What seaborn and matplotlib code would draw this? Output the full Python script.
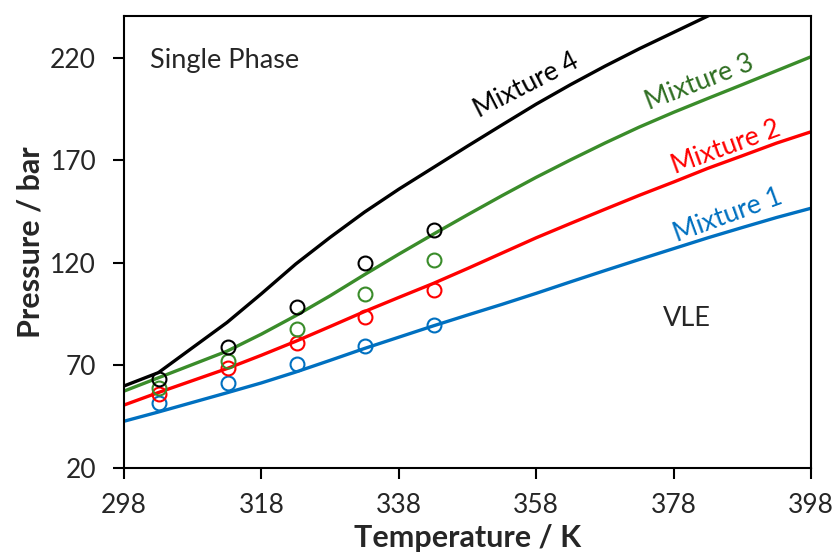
import pandas as pd
import matplotlib.pyplot as plt
import seaborn as sns

# Model curves (temperature in K, pressure in bar)
temp_model = [298, 303, 313, 318, 323, 328, 333, 338, 343, 348, 353, 358, 363, 368,
              373, 378, 383, 388, 393, 398]
mix1_model = [42.8, 47.3, 56.7, 61.5, 66.8, 72.5, 78.3, 83.8, 89.3, 94.6, 99.8, 105.2,
              110.8, 116.3, 121.7, 127.0, 132.3, 137.3, 142.2, 146.7]
mix2_model = [50.7, 56.8, 68.5, 75.0, 81.8, 89.0, 96.3, 103.2, 110.0, 117.3, 124.8, 132.3,
              139.3, 146.2, 153.0, 159.5, 166.2, 172.3, 178.5, 184.0]
mix3_model = [57.5, 64.0, 77.0, 85.3, 94.3, 104.0, 114.3, 124.3, 134.0, 143.5, 152.8, 161.8,
              170.3, 178.5, 186.3, 193.5, 200.3, 207.0, 213.8, 220.6]
mix4_model = [60.0, 66.5, 91.0, 105.0, 119.5, 132.5, 144.8, 156.0, 166.5, 177.0, 187.3,
              197.5, 207.0, 216.0, 224.5, 232.5, 240.5, 248.3, 256.0, 263.5]

# Experimental points
temp_exp = [303.15, 313.15, 323.15, 333.15, 343.15]
mix1_exp = [51.5, 61.6, 70.6, 79.3, 89.8]
mix2_exp = [56.0, 68.6, 81.1, 93.8, 106.8]
mix3_exp = [59.0, 72.2, 87.8, 104.8, 121.5]
mix4_exp = [63.4, 79.2, 98.7, 120.0, 136.1]

mixtures = ['Mixture 1', 'Mixture 2', 'Mixture 3', 'Mixture 4']
colors = {'Mixture 1': '#0070C0', 'Mixture 2': '#FF0000',
          'Mixture 3': '#3A8C2A', 'Mixture 4': '#000000'}
text_colors = {'Mixture 1': '#0070C0', 'Mixture 2': '#FF0000',
               'Mixture 3': '#2F6E22', 'Mixture 4': '#000000'}

model = pd.concat([
    pd.DataFrame({'T': temp_model, 'P': vals, 'mixture': name})
    for name, vals in zip(mixtures, [mix1_model, mix2_model, mix3_model, mix4_model])
])
exp = pd.concat([
    pd.DataFrame({'T': temp_exp, 'P': vals, 'mixture': name})
    for name, vals in zip(mixtures, [mix1_exp, mix2_exp, mix3_exp, mix4_exp])
])

sns.set_theme(style="ticks")
plt.rcParams['font.family'] = ['Lato', 'DejaVu Sans']

fig = plt.figure(figsize=(8.34, 5.55), dpi=100)
ax = fig.add_axes([0.1487, 0.1568, 0.9724 - 0.1487, 0.9712 - 0.1568])

sns.lineplot(data=model, x='T', y='P', hue='mixture', palette=colors,
             sort=False, estimator=None, linewidth=2.4, legend=False, ax=ax)

for name in mixtures:
    sub = exp[exp['mixture'] == name]
    ax.plot(sub['T'], sub['P'], linestyle='none', marker='o', markersize=10,
            markerfacecolor='none', markeredgecolor=colors[name],
            markeredgewidth=1.5, zorder=3)

ax.set_xlim(298, 398)
ax.set_ylim(20, 240.5)
ax.set_xticks([298, 318, 338, 358, 378, 398])
ax.set_yticks([20, 70, 120, 170, 220])
ax.tick_params(axis='both', labelsize=19, length=8, width=1.5,
               direction='out', color='black')
ax.tick_params(axis='x', pad=10)
ax.tick_params(axis='y', pad=12)
for side in ['top', 'right', 'left', 'bottom']:
    ax.spines[side].set_visible(True)
    ax.spines[side].set_color('black')
    ax.spines[side].set_linewidth(1.5)

ax.set_xlabel('Temperature / K', fontsize=22, fontweight='bold', labelpad=4)
ax.set_ylabel('Pressure / bar', fontsize=22, fontweight='bold', labelpad=4)

# Annotations
ax.text(301.8, 219, 'Single Phase', fontsize=19.5, ha='left', va='center')
ax.text(380, 93, 'VLE', fontsize=19.5, ha='center', va='center')
ax.text(356.5, 206.8, 'Mixture 4', fontsize=19, color=text_colors['Mixture 4'],
        rotation=27, ha='center', va='center')
ax.text(381.8, 207.8, 'Mixture 3', fontsize=19, color=text_colors['Mixture 3'],
        rotation=21, ha='center', va='center')
ax.text(385.6, 176.6, 'Mixture 2', fontsize=19, color=text_colors['Mixture 2'],
        rotation=20, ha='center', va='center')
ax.text(385.9, 143.4, 'Mixture 1', fontsize=19, color=text_colors['Mixture 1'],
        rotation=20, ha='center', va='center')

plt.savefig('out.png', dpi=100)
plt.close()
